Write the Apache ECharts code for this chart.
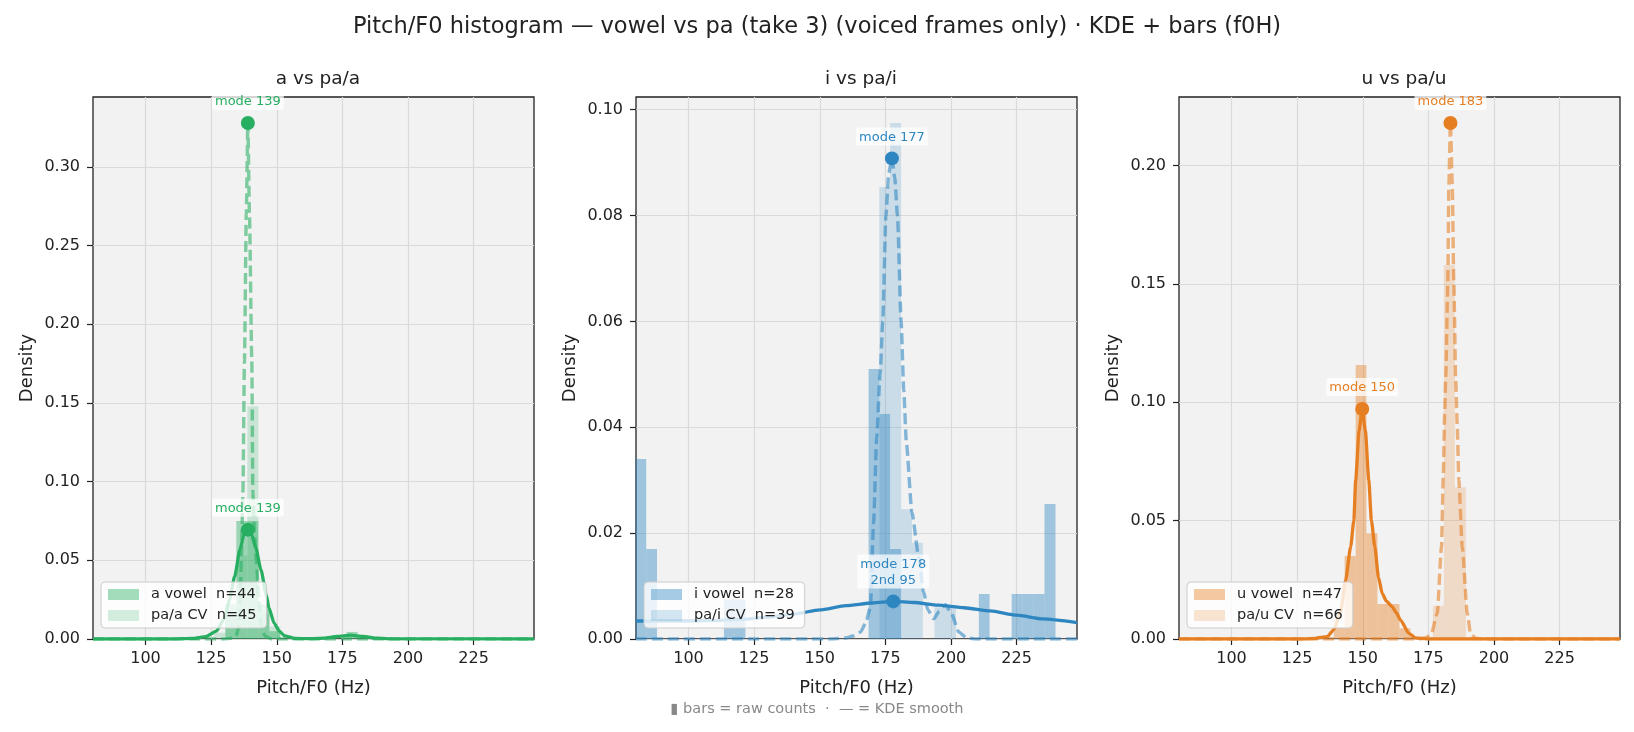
<!DOCTYPE html>
<html>
<head>
<meta charset="utf-8">
<title>Pitch/F0 histogram</title>
<script src="https://cdn.jsdelivr.net/npm/echarts@6/dist/echarts.min.js"></script>
<style>
	html, body { margin: 0; padding: 0; background: #fff; }
	#chart { width: 1634px; height: 732px; }
</style>
</head>
<body>
<div id="chart"></div>
<script>
//axis ticks
const xTicks  = [100, 125, 150, 175, 200, 225];
const yTicksA = [0, 0.05, 0.10, 0.15, 0.20, 0.25, 0.30];
const yTicksI = [0, 0.02, 0.04, 0.06, 0.08, 0.10];
const yTicksU = [0, 0.05, 0.10, 0.15, 0.20];
const yMax    = [0.3445, 0.1024, 0.229];

//legend names
const namesA = ['a vowel  n=44', 'pa/a CV  n=45'];
const namesI = ['i vowel  n=28', 'pa/i CV  n=39'];
const namesU = ['u vowel  n=47', 'pa/u CV  n=66'];

//histogram bars : [bin start, bin end, density]
const barsA_vowel = [[130.4,134.6,0.022],[134.6,138.8,0.075],[138.8,143.0,0.075],[143.0,147.2,0.022],[147.2,151.4,0.005],[176.6,180.8,0.0045]];
const barsA_cv    = [[126.2,130.4,0.004],[130.4,134.6,0.016],[134.6,138.8,0.053],[138.8,143.0,0.148],[143.0,147.2,0.016],[147.2,151.4,0.008]];
const barsI_vowel = [[79.8,83.9,0.034],[83.9,88.0,0.017],[113.5,117.6,0.0075],[117.6,121.7,0.0075],[168.6,172.7,0.051],[172.7,176.8,0.0425],[176.8,181.0,0.017],[210.6,214.7,0.0085],[223.1,227.2,0.0085],[227.2,231.4,0.0085],[231.4,235.6,0.0085],[235.6,239.8,0.0255]];
const barsI_cv    = [[172.7,176.8,0.0854],[176.8,181.0,0.0975],[181.0,185.1,0.0245],[185.1,189.3,0.0182],[193.7,197.8,0.006],[197.8,201.9,0.006]];
const barsU_vowel = [[139.0,143.1,0.005],[143.1,147.3,0.0351],[147.3,151.4,0.1158],[151.4,155.6,0.0447],[155.6,159.8,0.0148],[159.8,164.0,0.0148],[164.0,168.2,0.0045]];
const barsU_cv    = [[176.7,180.9,0.014],[180.9,185.1,0.158],[185.1,189.3,0.0641]];

//KDE curves : [Hz, density]
const kdeA_vowel = [[80,0],[110,0],[118,0.0004],[123,0.0015],[127,0.005],[130,0.013],[132,0.025],[134,0.04],[136,0.057],[137.5,0.066],[139,0.070],[140.5,0.066],[142,0.058],[144,0.044],[146,0.028],[147,0.02],[149,0.01],[151,0.005],[153,0.002],[157,0.0004],[163,0.0002],[168,0.0006],[173,0.0016],[178,0.0024],[183,0.0016],[188,0.0005],[195,0.0001],[248,0]];
const kdeA_cv    = [[80,0],[130,0],[133,0.0005],[134.5,0.002],[135.6,0.008],[136.1,0.025],[136.5,0.05],[137.1,0.093],[137.7,0.177],[138.4,0.27],[139,0.328],[139.6,0.27],[140.5,0.177],[140.9,0.093],[141.5,0.068],[142.2,0.05],[143.2,0.025],[144.1,0.008],[145.5,0.002],[148,0],[248,0]];
const kdeI_vowel = [[80,0.0034],[95,0.0034],[110,0.0035],[120,0.0037],[130,0.0041],[140,0.0047],[150,0.0055],[160,0.0063],[170,0.0068],[178,0.0071],[186,0.0069],[195,0.0064],[205,0.0059],[215,0.0053],[225,0.0045],[235,0.0038],[248,0.0031]];
const kdeI_cv    = [[80,0],[155,0],[160,0.0002],[163,0.0006],[165.5,0.0013],[167.5,0.003],[169.3,0.006],[170.5,0.022],[171.7,0.038],[173,0.05],[174,0.06],[175.2,0.08],[176.3,0.088],[177.5,0.091],[178.6,0.087],[179.6,0.08],[181,0.06],[182,0.047],[183,0.037],[185.1,0.024],[187.7,0.0155],[189.5,0.009],[191.2,0.0055],[193.4,0.0038],[195.5,0.0052],[197.9,0.0065],[200,0.005],[203,0.0013],[206,0.0002],[210,0],[248,0]];
const kdeU_vowel = [[80,0],[128,0],[132,0.0003],[136.5,0.001],[139,0.004],[141.5,0.011],[143.5,0.025],[145.4,0.039],[146.6,0.05],[147.3,0.067],[148.6,0.088],[149.8,0.0975],[151,0.088],[152.3,0.067],[153.3,0.05],[154.6,0.039],[156,0.026],[157.4,0.0193],[159,0.016],[161.2,0.0137],[162.8,0.011],[164.4,0.008],[167.6,0.0024],[170,0.0005],[175,0],[248,0]];
const kdeU_cv    = [[80,0],[172,0],[174,0.0005],[176.1,0.002],[178.4,0.011],[180,0.039],[180.7,0.07],[181.2,0.095],[181.6,0.11],[182.4,0.15],[182.8,0.192],[183.4,0.218],[184.1,0.192],[184.7,0.15],[185.4,0.11],[186,0.09],[186.6,0.067],[187.9,0.039],[189.8,0.011],[191.1,0.002],[193,0.0003],[196,0],[248,0]];

//mode markers : [Hz, density, label]
const modesA = [[139, 0.328, 'mode 139'], [139, 0.0695, 'mode 139']];
const modesI = [[177.5, 0.0908, 'mode 177'], [178, 0.0071, 'mode 178\n2nd 95']];
const modesU = [[183.4, 0.218, 'mode 183'], [149.8, 0.0972, 'mode 150']];

const colors = ['#27ae60', '#2e86c1', '#e67e22'];
const gridLeft = [93, 636, 1179];
const TXT = '#222';
const FONT = 'DejaVu Sans';

function rgba(hex, a) {
	const n = parseInt(hex.slice(1), 16);
	return `rgba(${(n >> 16) & 255},${(n >> 8) & 255},${n & 255},${a})`;
}

//histogram rect from [x0, x1, h]
function renderBar(params, api) {
	const p0 = api.coord([api.value(0), api.value(2)]);
	const p1 = api.coord([api.value(1), 0]);
	return {
		type: 'rect',
		shape: { x: p0[0], y: p0[1], width: p1[0] - p0[0], height: p1[1] - p0[1] },
		style: { fill: api.visual('color') }
	};
}

//one panel of series
function panelSeries(idx, names, barsV, barsC, kdeV, kdeC, modes) {
	const c = colors[idx];
	return [
		{
			name: names[0], type: 'custom', xAxisIndex: idx, yAxisIndex: idx,
			renderItem: renderBar, encode: { x: [0, 1], y: 2 },
			itemStyle: { color: rgba(c, 0.42) }, data: barsV, z: 1
		},
		{
			name: names[1], type: 'custom', xAxisIndex: idx, yAxisIndex: idx,
			renderItem: renderBar, encode: { x: [0, 1], y: 2 },
			itemStyle: { color: rgba(c, 0.2) }, data: barsC, z: 1
		},
		{
			name: 'kde-v' + idx, type: 'line', xAxisIndex: idx, yAxisIndex: idx,
			data: kdeV, showSymbol: false, smooth: 0.2, smoothMonotone: 'x',
			lineStyle: { color: c, width: 3.3 }, z: 3
		},
		{
			name: 'kde-c' + idx, type: 'line', xAxisIndex: idx, yAxisIndex: idx,
			data: kdeC, showSymbol: false, smooth: 0.2, smoothMonotone: 'x',
			lineStyle: { color: rgba(c, 0.58), width: 3.4, type: [11, 5] }, z: 2
		},
		{
			name: 'mode' + idx, type: 'scatter', xAxisIndex: idx, yAxisIndex: idx,
			data: modes, symbolSize: 14, itemStyle: { color: c, opacity: 1 }, z: 4,
			label: {
				show: true, position: 'top', distance: 6,
				formatter: (p) => p.data[2],
				color: c, fontFamily: FONT, fontSize: 13, lineHeight: 16,
				backgroundColor: 'rgba(255,255,255,0.75)', padding: [2, 3, 0, 3], borderRadius: 2
			}
		}
	];
}

function drawChart() {
	var myChart = echarts.init(document.getElementById('chart'));
	const yTicks = [yTicksA, yTicksI, yTicksU];
	const subTitles = ['a vs pa/a', 'i vs pa/i', 'u vs pa/u'];
	const legendNames = [namesA, namesI, namesU];

	const grids = gridLeft.map((l) => ({
		left: l, top: 97, width: 441, height: 542,
		show: true, backgroundColor: '#f2f2f2', borderColor: '#222', borderWidth: 1.3
	}));

	const xAxes = gridLeft.map((l, i) => ({
		type: 'value', gridIndex: i, min: 80, max: 248,
		name: 'Pitch/F0 (Hz)', nameLocation: 'middle', nameGap: 40,
		nameTextStyle: { color: TXT, fontFamily: FONT, fontSize: 18 },
		axisLine: { show: false },
		axisTick: { show: true, length: 6, inside: false, customValues: xTicks, lineStyle: { color: TXT, width: 1.2 } },
		axisLabel: { customValues: xTicks, color: TXT, fontFamily: FONT, fontSize: 16, margin: 12 },
		splitLine: { show: true, lineStyle: { color: '#dadada', width: 1.2 } }
	}));

	const yAxes = gridLeft.map((l, i) => ({
		type: 'value', gridIndex: i, min: 0, max: yMax[i],
		name: 'Density', nameLocation: 'middle', nameGap: 57,
		nameTextStyle: { color: TXT, fontFamily: FONT, fontSize: 18 },
		axisLine: { show: false },
		axisTick: { show: true, length: 6, customValues: yTicks[i], lineStyle: { color: TXT, width: 1.2 } },
		axisLabel: { customValues: yTicks[i], color: TXT, fontFamily: FONT, fontSize: 16, margin: 13,
			formatter: (v) => v.toFixed(2) },
		splitLine: { show: true, lineStyle: { color: '#dadada', width: 1.2 } }
	}));

	const titles = [
		{
			text: 'Pitch/F0 histogram — vowel vs pa (take 3) (voiced frames only) · KDE + bars (f0H)',
			left: 'center', top: 11,
			textStyle: { color: TXT, fontFamily: FONT, fontSize: 22.5, fontWeight: 'normal' }
		},
		{
			text: '▮ bars = raw counts  ·  — = KDE smooth',
			left: 'center', top: 697,
			textStyle: { color: '#888', fontFamily: FONT, fontSize: 14.5, fontWeight: 'normal' }
		}
	];
	subTitles.forEach((t, i) => {
		titles.push({
			text: t, left: gridLeft[i] + 220, top: 65, textAlign: 'center',
			textStyle: { color: TXT, fontFamily: FONT, fontSize: 18.5, fontWeight: 'normal' }
		});
	});

	const legends = legendNames.map((names, i) => ({
		orient: 'vertical', left: gridLeft[i] + 8, top: 582,
		data: names.map((n) => ({ name: n, icon: 'rect' })),
		itemWidth: 31, itemHeight: 11, itemGap: 6,
		padding: [5, 10, 5, 7],
		backgroundColor: 'rgba(255,255,255,0.8)', borderColor: '#cccccc', borderWidth: 1, borderRadius: 4,
		textStyle: { color: TXT, fontFamily: FONT, fontSize: 14.5, padding: [0, 0, 0, 7] },
		selectedMode: false
	}));

	const series = [].concat(
		panelSeries(0, namesA, barsA_vowel, barsA_cv, kdeA_vowel, kdeA_cv, modesA),
		panelSeries(1, namesI, barsI_vowel, barsI_cv, kdeI_vowel, kdeI_cv, modesI),
		panelSeries(2, namesU, barsU_vowel, barsU_cv, kdeU_vowel, kdeU_cv, modesU)
	);

	var option = {
		backgroundColor: '#ffffff',
		animation: false,
		title: titles,
		legend: legends,
		grid: grids,
		xAxis: xAxes,
		yAxis: yAxes,
		series: series
	};

	myChart.setOption(option);
}

drawChart();
</script>
</body>
</html>
